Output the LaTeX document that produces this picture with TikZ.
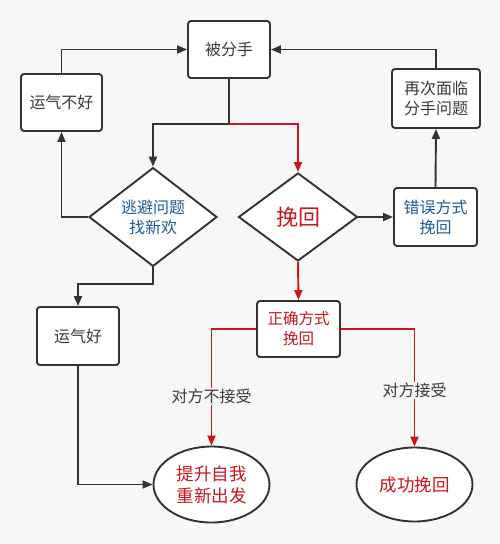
\documentclass[tikz,border=0pt]{standalone}
\usepackage{fontspec}
\setmainfont{Noto Sans CJK SC}
\usetikzlibrary{shapes.geometric,arrows.meta}
\definecolor{bg}{HTML}{F7F7F7}
\definecolor{ln}{HTML}{333333}
\definecolor{tx}{HTML}{3A3A3A}
\definecolor{bl}{HTML}{1F5C99}
\definecolor{rd}{HTML}{C8161D}
\tikzset{
  box/.style={draw=ln, line width=1.9pt, rounded corners=3pt, fill=white, inner sep=0pt, align=center,
    font=\fontsize{16}{20}\selectfont, text=tx},
  dia/.style={draw=ln, line width=1.9pt, diamond, fill=white, inner sep=0pt, align=center,
    font=\fontsize{16}{20}\selectfont, minimum width=128pt, minimum height=88pt},
  ell/.style={draw=ln, line width=1.9pt, ellipse, fill=white, inner sep=0pt, align=center,
    font=\fontsize{17.5}{22}\selectfont, text=rd, minimum width=116pt, minimum height=76pt},
  blk/.style={draw=ln, line width=1.9pt, -{Triangle[length=10pt,width=8pt]}},
  red/.style={draw=rd, line width=1.9pt, -{Triangle[length=10pt,width=8pt]}},
  lab/.style={font=\fontsize{16}{20}\selectfont, text=tx, fill=bg, inner sep=1pt}
}
\begin{document}
\begin{tikzpicture}[x=1pt,y=-1pt]
\fill[bg] (0,0) rectangle (500,544);
\useasboundingbox (0,0) rectangle (500,544);

\node[box, minimum width=82pt, minimum height=57pt] (bfs) at (229,49.5) {被分手};
\node[box, minimum width=81pt, minimum height=57pt] (yq) at (61.5,102.5) {运气不好};
\node[box, minimum width=88pt, minimum height=59pt] (zc) at (436,98.5) {再次面临\\分手问题};
\node[dia, text=bl] (tb) at (153,217) {逃避问题\\找新欢};
\node[dia, text=rd, minimum width=119pt, font=\fontsize{22}{26}\selectfont] (wh) at (298,217) {挽回};
\node[box, text=bl, minimum width=83pt, minimum height=58pt] (cw) at (435.5,217) {错误方式\\挽回};
\node[box, minimum width=82pt, minimum height=58pt] (yh) at (78,336) {运气好};
\node[box, text=rd, minimum width=83pt, minimum height=56pt, font=\fontsize{15.5}{20}\selectfont] (zq) at (298.5,329) {正确方式\\挽回};
\node[ell] (ts) at (211.5,484.5) {提升自我\\重新出发};
\node[ell, minimum height=74pt] (cg) at (414.5,484.5) {成功挽回};

\coordinate (j) at (229,124);
\coordinate (k) at (153,284);

\draw[blk] (yq.north) |- (bfs.west);
\draw[ln, line width=1.9pt] (bfs.south) -- (j);
\draw[red] (j) -| (wh.north);
\draw[blk] (j) -| (tb.north);
\draw[blk] (tb.west) -| (yq.south);
\draw[blk] (wh.east) -- (cw.west);
\draw[blk] (cw.north) -- (zc.south);
\draw[blk] (zc.north) |- (bfs.east);
\draw[blk] (tb.south) -- (k) -| (yh.north);
\draw[blk] (yh.south) |- (ts.west);
\draw[red] (wh.south) -- (zq.north);
\draw[red] (zq.west) -| (ts.north) node[lab, pos=0.79] {对方不接受};
\draw[red] (zq.east) -| (cg.north) node[lab, pos=0.76] {对方接受};
\end{tikzpicture}
\end{document}
